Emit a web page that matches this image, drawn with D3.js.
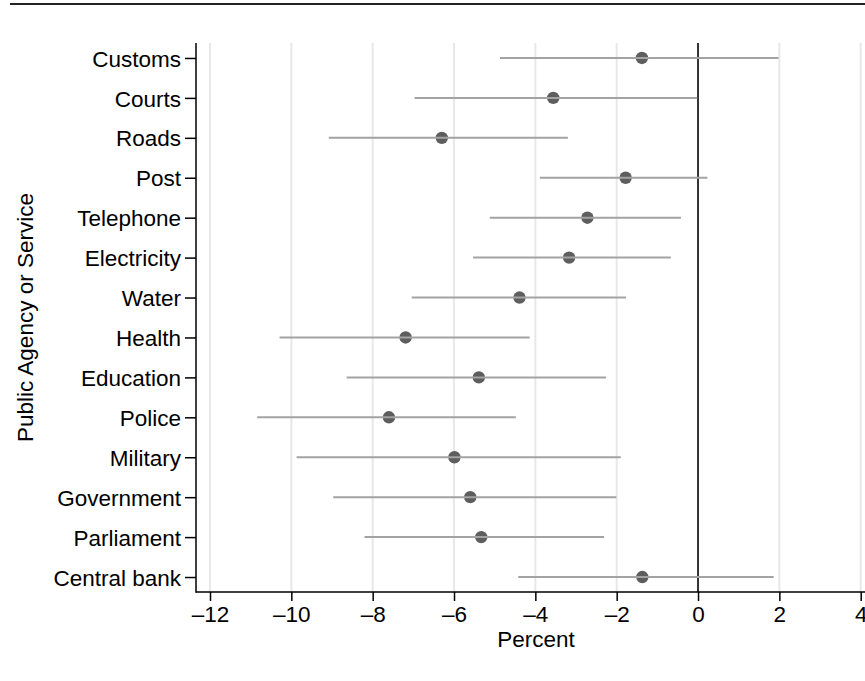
<!DOCTYPE html>
<html>
<head>
<meta charset="utf-8">
<script src="https://cdn.jsdelivr.net/npm/d3@7"></script>
<style>
body{margin:0;background:#fff}
text{font-family:"Liberation Sans",Arial,Helvetica,sans-serif;fill:#000}
</style>
</head>
<body>
<script>
const agencies=['Customs','Courts','Roads','Post','Telephone','Electricity','Water','Health','Education','Police','Military','Government','Parliament','Central bank']
const estimate=[-1.38,-3.56,-6.30,-1.78,-2.72,-3.17,-4.39,-7.19,-5.39,-7.60,-5.99,-5.60,-5.33,-1.37]
const lower=[-4.87,-6.97,-9.08,-3.89,-5.12,-5.53,-7.04,-10.29,-8.64,-10.84,-9.87,-8.97,-8.20,-4.42]
const upper=[1.98,-0.02,-3.20,0.23,-0.42,-0.67,-1.77,-4.14,-2.26,-4.48,-1.90,-2.01,-2.31,1.86]
const xTicks=[-12,-10,-8,-6,-4,-2,0,2,4]

const width=865
const height=681
const plotLeft=196, plotTop=43, plotBottom=592
const fontSize='22.5px'

const rows=agencies.map((a,i)=>({name:a,est:estimate[i],lo:lower[i],hi:upper[i]}))

const svg=d3.select('body').append('svg').attr('width',width).attr('height',height)

// top rule
svg.append('line').attr('x1',10).attr('x2',width).attr('y1',4).attr('y2',4)
   .attr('stroke','#222').attr('stroke-width',2)

const xScale=d3.scaleLinear().domain([-12,4]).range([210,860.7])
const yScale=d3.scalePoint().domain(agencies).range([plotTop,plotBottom]).padding(0.375)

// grid
svg.selectAll('.grid').data(xTicks.filter(d=>d!==0)).enter().append('line')
   .attr('class','grid')
   .attr('x1',d=>xScale(d)).attr('x2',d=>xScale(d))
   .attr('y1',plotTop).attr('y2',plotBottom)
   .attr('stroke','#e8e8e8').attr('stroke-width',2)

// zero line
svg.append('line').attr('x1',xScale(0)).attr('x2',xScale(0)).attr('y1',plotTop).attr('y2',plotBottom)
   .attr('stroke','#333').attr('stroke-width',2)

// dots, then intervals drawn over them
svg.selectAll('circle').data(rows).enter().append('circle')
   .attr('cx',d=>xScale(d.est))
   .attr('cy',d=>yScale(d.name))
   .attr('r',6.2)
   .attr('fill','#5e5e5e')
svg.selectAll('.ci').data(rows).enter().append('line')
   .attr('class','ci')
   .attr('x1',d=>xScale(d.lo)).attr('x2',d=>xScale(d.hi))
   .attr('y1',d=>yScale(d.name)).attr('y2',d=>yScale(d.name))
   .attr('stroke','#a3a3a3').attr('stroke-width',2)

// axes
const xAxis=d3.axisBottom(xScale).tickValues(xTicks).tickSize(9).tickPadding(5)
   .tickFormat(d=>d<0?'\u2013'+Math.abs(d):String(d))
const gx=svg.append('g').attr('transform',`translate(0,${plotBottom})`).call(xAxis)
gx.select('.domain').remove()
gx.selectAll('.tick line').attr('stroke','#000').attr('stroke-width',1.5)
gx.selectAll('.tick text').style('font-size',fontSize)
gx.append('line').attr('x1',plotLeft).attr('x2',width).attr('y1',0).attr('y2',0)
   .attr('stroke','#000').attr('stroke-width',1.5)

const yAxis=d3.axisLeft(yScale).tickSize(11).tickPadding(4)
const gy=svg.append('g').attr('transform',`translate(${plotLeft},0)`).call(yAxis)
gy.select('.domain').remove()
gy.selectAll('.tick line').attr('stroke','#000').attr('stroke-width',1.5)
gy.selectAll('.tick text').style('font-size',fontSize).attr('dy','0.36em')
gy.append('line').attr('x1',0).attr('x2',0).attr('y1',plotTop).attr('y2',plotBottom+0.75)
   .attr('stroke','#000').attr('stroke-width',1.5)

// titles
svg.append('text').attr('x',536).attr('y',647)
   .attr('text-anchor','middle').style('font-size',fontSize).text('Percent')
svg.append('text').attr('transform',`translate(33,${(plotTop+plotBottom)/2}) rotate(-90)`)
   .attr('text-anchor','middle').style('font-size',fontSize).text('Public Agency or Service')
</script>
</body>
</html>
